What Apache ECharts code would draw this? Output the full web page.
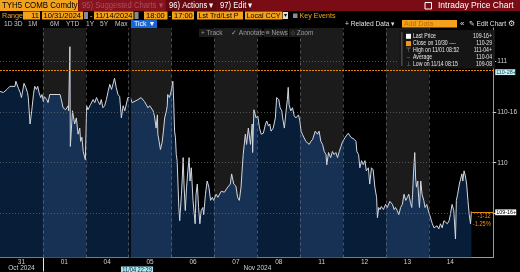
<!DOCTYPE html>
<html><head><meta charset="utf-8">
<script src="https://cdn.jsdelivr.net/npm/echarts@6/dist/echarts.min.js"></script>
<style>html,body{margin:0;padding:0;background:#000;overflow:hidden}#c{width:520px;height:272px}</style>
</head><body><div id="c"></div>
<script>
// ---- data ----
const dayLabels = ['31','01','04','05','06','07','08','11','12','13','14'];
const monthLabels = ['Oct 2024','Nov 2024'];
const monthPos = [0.5, 6.0];
const yTickValues = [109.5, 110, 110.5, 111];
const yTickLabels = ['109-16', '110', '110-16', '111'];
const yLabelValues = [110, 110.5, 111];
const prevClose = 110.90625;      // 110-29
const lastPrice = 109.515625;     // 109-16+
const markerPrice = 110.890625;   // 110-28+
const crosshairPos = 3.02;        // 11/04 22:29
const tickTime = [
0.00,0.08,0.16,0.23,0.35,0.37,0.43,0.47,0.50,0.56,0.60,0.64,0.66,0.70,0.74,0.78,0.81,0.85,0.88,0.91,0.95,0.98,
1.01,1.03,1.09,1.12,1.16,1.40,1.43,1.47,1.53,1.59,1.60,1.63,1.64,1.69,1.74,1.78,1.82,1.86,1.88,1.91,1.94,1.99,
2.02,2.05,2.11,2.17,2.21,2.25,2.29,2.33,2.36,2.40,2.44,2.48,2.52,2.56,2.60,2.64,2.67,2.71,2.75,2.79,2.83,2.87,2.91,2.98,
3.04,3.08,3.22,3.29,3.37,3.45,3.49,3.57,3.60,3.64,3.67,3.68,3.71,3.74,3.78,3.81,3.84,3.88,3.90,3.91,3.95,3.99,
4.03,4.05,4.07,4.09,4.11,4.13,4.15,4.17,4.19,4.23,4.25,4.27,4.29,4.32,4.35,4.38,4.41,4.43,4.46,4.50,4.55,4.57,4.60,4.63,4.66,4.69,4.73,4.75,4.79,4.83,4.87,4.91,4.95,4.98,
5.04,5.08,5.16,5.23,5.31,5.37,5.40,5.45,5.50,5.54,5.58,5.62,5.64,5.67,5.72,5.75,5.79,5.84,5.88,5.89,5.92,5.97,
6.01,6.05,6.09,6.14,6.19,6.22,6.26,6.29,6.32,6.37,6.42,6.45,6.50,6.53,6.57,6.59,6.63,6.67,6.70,6.72,6.74,6.78,6.82,6.86,6.90,6.96,6.99,
7.02,7.05,7.13,7.17,7.21,7.25,7.29,7.35,7.40,7.44,7.48,7.52,7.56,7.60,7.62,7.66,7.71,7.75,7.79,7.83,7.87,7.91,7.95,7.98,
8.05,8.12,8.18,8.26,8.30,8.32,8.36,8.39,8.43,8.47,8.51,8.54,8.59,8.62,8.66,8.70,8.74,8.78,8.80,8.83,8.86,8.89,8.94,8.99,
9.03,9.09,9.15,9.19,9.22,9.26,9.30,9.34,9.38,9.42,9.46,9.50,9.53,9.57,9.60,9.62,9.64,9.67,9.69,9.71,9.74,9.76,9.78,9.81,9.84,9.88,9.91,9.95,9.98,
10.02,10.08,10.12,10.16,10.19,10.23,10.27,10.31,10.35,10.39,10.43,10.47,10.50,10.54,10.58,10.62,10.64,10.67,10.71,10.74,10.77,10.79,10.82,10.85,10.88,10.91,10.94,10.97,10.99];
const tickPrice = [
110.70,110.69,110.72,110.75,110.75,110.80,110.73,110.69,110.64,110.78,110.74,110.69,110.64,110.38,110.51,110.67,110.75,110.72,110.75,110.69,110.64,110.67,
110.60,110.65,110.62,110.59,110.67,110.67,110.62,110.54,110.52,110.56,110.51,111.14,110.16,110.51,110.38,110.44,110.28,110.34,110.21,110.25,110.11,110.03,
110.56,110.52,110.57,110.62,110.59,110.64,110.60,110.57,110.62,110.54,110.56,110.62,110.70,110.77,110.72,110.78,110.83,110.74,110.67,110.65,110.44,110.56,110.51,110.64,
110.64,110.59,110.62,110.64,110.60,110.54,110.56,110.51,110.46,110.34,110.47,110.28,110.21,110.13,110.20,110.31,110.44,110.51,110.56,110.67,110.64,110.70,
110.80,110.60,110.31,110.25,110.08,110.02,109.79,109.56,109.43,109.69,109.85,110.05,109.79,109.53,109.76,109.92,110.05,109.82,109.95,109.63,109.40,109.69,109.79,109.56,109.40,109.53,109.56,109.49,109.69,109.82,109.76,109.63,109.66,109.63,
109.69,109.66,109.72,109.71,109.76,109.79,109.89,109.79,109.77,109.66,109.63,109.76,109.89,110.08,110.28,110.18,110.34,110.18,110.38,110.10,110.52,110.44,
110.46,110.34,110.28,110.29,110.38,110.41,110.36,110.38,110.31,110.34,110.44,110.64,110.62,110.54,110.51,110.44,110.34,110.51,110.62,110.74,110.57,110.51,110.54,110.46,110.44,110.47,110.41,
110.31,110.28,110.21,110.20,110.18,110.21,110.23,110.31,110.28,110.31,110.21,110.18,110.11,110.08,109.98,110.10,110.05,110.11,110.08,110.10,110.05,110.11,110.16,110.20,
110.25,110.29,110.25,110.23,110.21,110.11,110.08,109.95,110.02,109.98,110.02,109.92,109.95,109.79,109.95,109.93,109.76,109.66,109.46,109.56,109.54,109.57,109.54,109.59,
109.56,109.62,109.59,109.54,109.56,109.53,109.49,109.56,109.59,109.69,109.63,109.66,109.69,109.61,109.56,109.69,109.89,110.10,109.85,109.76,109.82,109.66,109.56,109.82,109.69,109.63,109.56,109.59,109.54,
109.53,109.40,109.36,109.35,109.38,109.35,109.40,109.36,109.43,109.44,109.40,109.43,109.49,109.59,109.53,109.25,109.63,109.69,109.79,109.79,109.89,109.82,109.92,109.87,109.79,109.63,109.49,109.40,109.52];

// ---- chart ----
const FONT = '"Liberation Sans", Arial, sans-serif';
const yMin = 109.0686, yMax = 111.3235, xMax = 11.5;
const navyDark = '#071d38', navyLight = '#163153', grayBand = '#1b1b1b';
const lineData = tickTime.map((t, i) => [t, tickPrice[i]]);
const nDays = dayLabels.length;
const bandAreas = [];
for (let i = 1; i < nDays; i += 2) bandAreas.push([{xAxis: i}, {xAxis: i + 1}]);
const gridLines = [];
yTickValues.forEach(v => gridLines.push({yAxis: v, lineStyle: {type: [1, 2], color: 'rgba(120,120,120,0.6)', width: 1}}));
for (let i = 1; i < nDays; i++) gridLines.push({xAxis: i, lineStyle: {type: [3, 3], color: 'rgba(140,140,140,0.5)', width: 1}});
gridLines.push({yAxis: prevClose, lineStyle: {type: [2, 1], color: '#e8870e', width: 1}});
gridLines.push({xAxis: crosshairPos, lineStyle: {type: 'solid', color: '#000', width: 1.5}});
gridLines.push([{coord: [tickTime[tickTime.length - 1], lastPrice], lineStyle: {type: 'solid', color: '#e8870e', width: 1}}, {coord: [xMax, lastPrice]}]);

const chart = echarts.init(document.getElementById('c'), null, {renderer: 'canvas'});
const option = {
  backgroundColor: '#000',
  animation: false,
  grid: {left: 0, right: 25.5, top: 28, bottom: 14},
  xAxis: [{
    type: 'value', min: 0, max: xMax,
    axisLine: {show: true, onZero: false, lineStyle: {color: '#9a9a9a', width: 1}},
    axisTick: {show: true, customValues: [1], length: 14, lineStyle: {color: '#e6e6e6'}},
    axisLabel: {show: true, customValues: dayLabels.map((_, i) => i + 0.5), formatter: v => dayLabels[Math.floor(v)],
      color: '#d0d0d0', fontSize: 6.5, margin: 1, fontFamily: FONT},
    splitLine: {show: false}
  }, {
    type: 'value', min: 0, max: xMax, position: 'bottom',
    axisLine: {show: false, onZero: false}, axisTick: {show: false}, splitLine: {show: false},
    axisLabel: {show: true, customValues: monthPos, formatter: v => monthLabels[monthPos.indexOf(v)],
      color: '#d0d0d0', fontSize: 6.5, margin: 7.5, fontFamily: FONT}
  }],
  yAxis: {
    type: 'value', position: 'right', min: yMin, max: yMax,
    axisLine: {show: true, onZero: false, lineStyle: {color: '#9a9a9a'}},
    axisTick: {show: true, customValues: yTickValues, length: 3, lineStyle: {color: '#cccccc'}},
    axisLabel: {show: true, customValues: yLabelValues, formatter: v => yTickLabels[yTickValues.indexOf(v)],
      color: '#d0d0d0', fontSize: 6.5, margin: 4, fontFamily: FONT},
    splitLine: {show: false}
  },
  series: [
    {id: 'bands', type: 'line', data: [], z: 1, silent: true,
      markArea: {silent: true, itemStyle: {color: grayBand}, data: bandAreas}},
    {id: 'area', type: 'line', data: lineData, z: 2, silent: true, symbol: 'none', showSymbol: false,
      lineStyle: {width: 0, opacity: 0}, areaStyle: {origin: 'start', color: navyDark, opacity: 1}},
    {id: 'grid', type: 'line', data: [], z: 3, silent: true,
      markLine: {silent: true, symbol: ['none', 'none'], label: {show: false}, animation: false, data: gridLines}},
    {id: 'price', type: 'line', data: lineData, z: 4, silent: true, symbol: 'none', showSymbol: false,
      lineStyle: {color: '#d3d7df', width: 1}}
  ]
};
chart.setOption(option);

// ---- overlays ----
const px = v => chart.convertToPixel({xAxisIndex: 0}, v);
const py = v => chart.convertToPixel({yAxisIndex: 0}, v);
const stops = [];
for (let i = 0; i < nDays; i++) {
  const c = i % 2 ? navyLight : navyDark;
  stops.push({offset: i / nDays, color: c}, {offset: (i + 1) / nDays, color: c});
}
const grad = {type: 'linear', x: px(0), y: 0, x2: px(nDays), y2: 0, colorStops: stops, global: true};

const G = [];
const rect = (x, y, w, h, fill, extra) => G.push(Object.assign({type: 'rect', z: 100, shape: {x, y, width: w, height: h}, style: {fill}}, extra || {}));
const txt = (x, y, s, fill, size, align, sx) => G.push({type: 'text', z: 101, x, y, scaleX: sx || 1,
  style: {text: s, x: 0, y: 0, fill, font: size + 'px ' + FONT, textAlign: align || 'left', align: align || 'left', textVerticalAlign: 'middle', verticalAlign: 'middle'}});
const OR = '#f3a31b';
// row 1
rect(0, 0, 520, 11, '#7a0c15');
rect(0, 0, 78, 11, OR); txt(2, 5.8, 'TYH5 COMB Comdty', '#000', 8.5, 'left', 0.93);
rect(79, 0, 86, 11, '#86141f'); txt(82, 5.8, '95) Suggested Charts \u25BE', '#b24b5d', 8.5, 'left', 0.9);
rect(166, 0, 51, 11, '#650911'); txt(169, 5.8, '96) Actions \u25BE', '#ffffff', 8.5, 'left', 0.9);
rect(218, 0, 33, 11, '#650911'); txt(220, 5.8, '97) Edit \u25BE', '#ffffff', 8.5, 'left', 0.9);
rect(425, 2.5, 6.5, 6.5, 'none', {style: {fill: 'none', stroke: '#fff', lineWidth: 1}});
txt(438, 5.8, 'Intraday Price Chart', '#ffffff', 8.5);
// row 2
txt(2, 15.5, 'Range', OR, 7.5, 'left', 0.95);
rect(23, 11.5, 17, 8, OR); txt(39, 15.5, '11', '#000', 7.5, 'right');
rect(42, 11.5, 41, 8, OR); txt(43.5, 15.5, '10/31/2024', '#000', 7.5, 'left', 1.0);
rect(84, 12, 4, 7, '#8a8a8a');
txt(90, 15.5, '-', '#ddd', 7.5);
rect(94, 11.5, 39.5, 8, OR); txt(95.5, 15.5, '11/14/2024', '#000', 7.5, 'left', 1.0);
rect(134.5, 12, 4, 7, '#8a8a8a');
rect(144, 11.5, 23.5, 8, OR); txt(146, 15.5, '18:00', '#000', 7.5);
txt(168.5, 15.5, '-', '#ddd', 7.5);
rect(172, 11.5, 22, 8, OR); txt(174, 15.5, '17:00', '#000', 7.5);
rect(197, 11.5, 46, 8, OR); txt(198.5, 15.5, 'Lst Trd/Lst P', '#000', 7.5, 'left', 0.95);
rect(245, 11.5, 37.5, 8, OR); txt(246.5, 15.5, 'Local CCY', '#000', 7.5, 'left', 0.95);
rect(283, 12, 5, 7, '#dddddd'); txt(285.5, 15.5, '\u25BE', '#000', 6, 'center');
rect(293, 13.5, 4.5, 4.5, '#8a8a8a'); txt(299.5, 15.5, 'Key Events', OR, 7.5, 'left', 0.95);
// row 3
[['1D', 4], ['3D', 14], ['1M', 28], ['6M', 50], ['YTD', 66], ['1Y', 86], ['5Y', 100], ['Max', 115]].forEach(a => txt(a[1], 24, a[0], '#c4c4c4', 7, 'left', 0.95));
rect(131, 20, 26, 8, '#1765d6'); txt(134, 24, 'Tick \u25BC', '#ffffff', 7);
txt(345, 23.8, '+ Related Data \u25BE', '#e0e0e0', 7, 'left', 0.95);
rect(402, 20, 55, 7.5, OR); txt(404, 23.8, 'Add Data', '#c56a00', 7);
txt(460, 23.8, '\u00AB', '#e0e0e0', 8);
txt(469, 23.8, '\u270E Edit Chart', '#e0e0e0', 7, 'left', 0.95);
txt(508, 23.8, '\u2699', '#e0e0e0', 8);
// row 4 (tools)
rect(199, 28.5, 29, 8.5, '#1c1c1c'); txt(201, 32.8, '+ Track', '#9c9c9c', 6.5);
rect(229, 28.5, 33, 8.5, '#1c1c1c'); txt(231, 32.8, '\u2713 Annotate', '#9c9c9c', 6.5);
rect(264, 28.5, 24, 8.5, '#1c1c1c'); txt(266, 32.8, '\u2261 News', '#9c9c9c', 6.5);
rect(289, 28.5, 27, 8.5, '#1c1c1c'); txt(291, 32.8, '\u25CB Zoom', '#9c9c9c', 6.5);
// legend
rect(399, 30, 96, 38.5, 'rgba(22,22,22,0.95)');
rect(401.5, 32, 0.8, 34, '#777');
const LY = [36.3, 43.6, 50.7, 57.5, 64.2];
rect(406, LY[0] - 2.5, 5, 5, '#ffffff');
rect(406, LY[1] - 2.5, 5, 5, '#f39a12');
txt(408.5, LY[2], '\u22A4', '#999', 6, 'center');
txt(408.5, LY[3], '\u2013', '#999', 6, 'center');
txt(408.5, LY[4], '\u22A5', '#999', 6, 'center');
const legLabels = ['Last Price', 'Close on 10/30 ----', 'High on 11/01 08:52', 'Average', 'Low on 11/14 08:15'];
const legValues = ['109-16+', '110-29', '111-04+', '110-04', '109-08'];
legLabels.forEach((s, i) => txt(413, LY[i], s, '#e6e6e6', 6.3, 'left', 0.82));
legValues.forEach((s, i) => txt(492, LY[i], s, '#e6e6e6', 6.3, 'right', 0.82));
// right axis markers (positions from the axes)
const yM = py(markerPrice), yL = py(lastPrice), xR = px(xMax), xC = px(crosshairPos);
rect(xR + 2, yM - 2.8, 20, 5.8, '#cdeff2'); txt(xR + 3, yM + 0.2, '110-28+', '#0b5260', 6, 'left', 0.9);
rect(xR + 2, yL - 2.6, 21, 5.8, '#ffffff'); txt(xR + 3, yL + 0.3, '109-16+', '#000', 6, 'left', 0.9);
txt(xR - 2.5, yL + 4.5, '-1-12', '#f0920f', 6.3, 'right', 0.9);
txt(xR - 2.5, yL + 12, '-1.25%', '#f0920f', 6.3, 'right', 0.9);
rect(xC - 8.5, 266.5, 32, 7, '#a9e7ef'); txt(xC + 7.5, 269.8, '11/04 22:29', '#0a3040', 6.3, 'center', 0.9);

chart.setOption({series: [{id: 'area', areaStyle: {color: grad}}], graphic: {elements: G}});
</script></body></html>
